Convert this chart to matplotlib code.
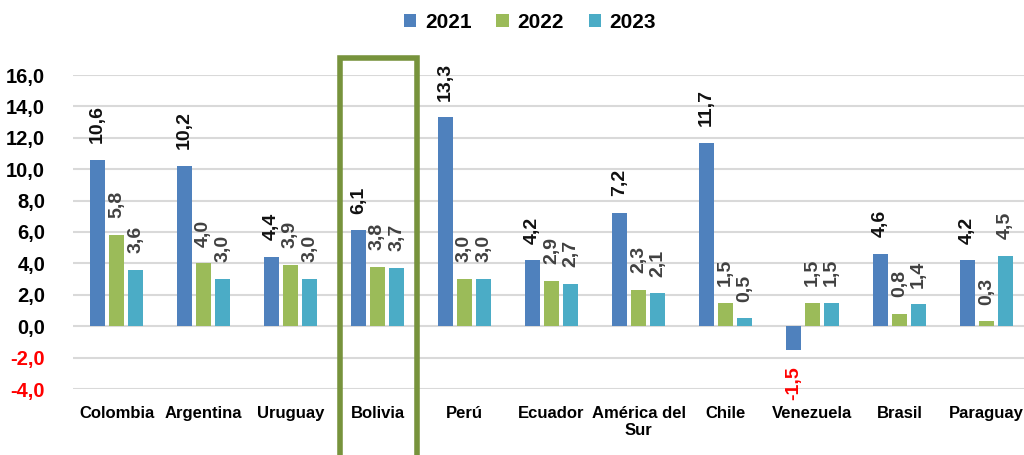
import matplotlib
matplotlib.use("Agg")
import matplotlib.pyplot as plt
import numpy as np
from matplotlib.patches import Rectangle
from matplotlib import font_manager

categories = ["Colombia", "Argentina", "Uruguay", "Bolivia", "Perú", "Ecuador",
              "América del\nSur", "Chile", "Venezuela", "Brasil", "Paraguay"]
years = ["2021", "2022", "2023"]
v2021 = [10.6, 10.2, 4.4, 6.1, 13.3, 4.2, 7.2, 11.7, -1.5, 4.6, 4.2]
v2022 = [5.8, 4.0, 3.9, 3.8, 3.0, 2.9, 2.3, 1.5, 1.5, 0.8, 0.3]
v2023 = [3.6, 3.0, 3.0, 3.7, 3.0, 2.7, 2.1, 0.5, 1.5, 1.4, 4.5]
yticks = [-4, -2, 0, 2, 4, 6, 8, 10, 12, 14, 16]
highlight = "Bolivia"

colors = ["#4F81BD", "#9BBB59", "#4BACC6"]
label_colors = ["#111111", "#404040", "#404040"]

names = {f.name for f in font_manager.fontManager.ttflist}
fam = "Liberation Sans Narrow" if "Liberation Sans Narrow" in names else "Liberation Sans"
plt.rcParams["font.family"] = [fam, "DejaVu Sans"]

fig = plt.figure(figsize=(10.24, 4.55), dpi=100)
ax = fig.add_axes([73/1024, 66/455, (1030-73)/1024, (389-75)/455])
ax.set_ylim(-4, 16)
ax.set_xlim(-0.5, len(categories) - 0.5)

x = np.arange(len(categories))
w = 0.17
step = 0.22
series = [v2021, v2022, v2023]
for i, (vals, c) in enumerate(zip(series, colors)):
    xs = x + (i - 1) * step
    ax.bar(xs, vals, width=w, color=c, label=years[i], zorder=3)
    for xi, v in zip(xs, vals):
        txt = f"{v:.1f}".replace(".", ",")
        if v >= 0:
            ax.annotate(txt, (xi, v), xytext=(0, 12), textcoords="offset points",
                        rotation=90, ha="center", va="bottom", fontsize=14,
                        fontweight="bold", color=label_colors[i], zorder=4)
        else:
            ax.annotate(txt, (xi, v), xytext=(0, -12), textcoords="offset points",
                        rotation=90, ha="center", va="top", fontsize=14,
                        fontweight="bold", color="#FF0000", zorder=4)

ax.set_yticks(yticks)
ax.set_yticklabels([f"{t:.1f}".replace(".", ",") for t in yticks],
                   fontsize=14.5, fontweight="bold")
for lab, t in zip(ax.get_yticklabels(), yticks):
    lab.set_color("#FF0000" if t < 0 else "black")
ax.set_xticks(x)
ax.set_xticklabels(categories, fontsize=12, fontweight="bold", va="top")
ax.tick_params(axis="y", length=0, pad=20)
ax.tick_params(axis="x", length=0, pad=12)
ax.grid(axis="y", color="#D9D9D9", linewidth=1.5, zorder=0)
for s in ax.spines.values():
    s.set_visible(False)

hi = categories.index(highlight)
rect = Rectangle((hi - 0.43, -12), 0.88, 17.1 + 12, fill=False,
                 edgecolor="#77933C", linewidth=4, clip_on=False, zorder=5)
ax.add_patch(rect)

leg = fig.legend(loc="center", bbox_to_anchor=(530/1024, 1 - 22/455), ncol=3,
                 frameon=False, prop={"size": 15, "weight": "bold"},
                 handlelength=0.6, handleheight=0.6, handletextpad=0.4,
                 columnspacing=1.2)

fig.savefig("out.png", dpi=100)
